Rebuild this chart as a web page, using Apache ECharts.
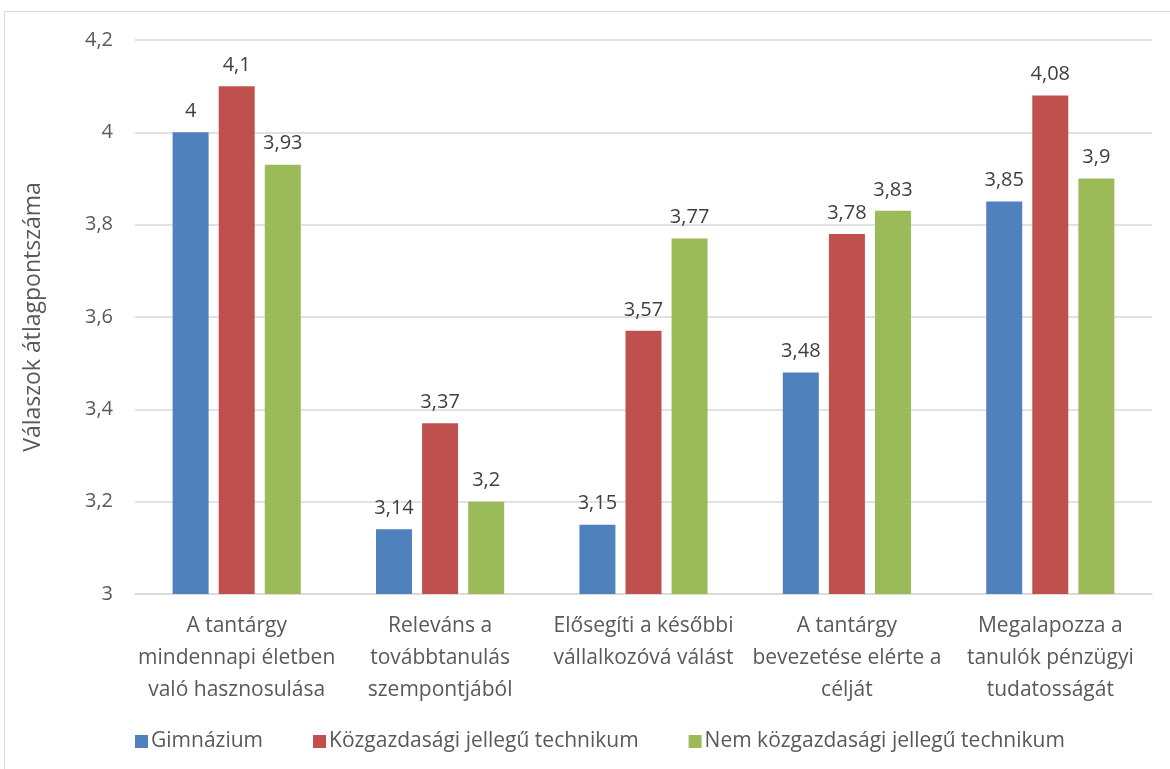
<!DOCTYPE html>
<html>
<head>
<meta charset="utf-8">
<script src="https://cdn.jsdelivr.net/npm/echarts@6/dist/echarts.min.js"></script>
<style>
  html, body { margin: 0; padding: 0; background: #fff; }
  #frame { position: absolute; left: 4px; top: 11px; width: 1180px; height: 800px; border: 1px solid #d9d9d9; box-sizing: border-box; }
  #chart { position: absolute; left: 0; top: 0; width: 1170px; height: 769px; }
</style>
</head>
<body>
<div id="frame"></div>
<div id="chart"></div>
<script>
// Category labels (x axis)
const categories = [
  'A tantárgy\nmindennapi életben\nvaló hasznosulása',
  'Releváns a\ntovábbtanulás\nszempontjából',
  'Elősegíti a későbbi\nvállalkozóvá válást',
  'A tantárgy\nbevezetése elérte a\ncélját',
  'Megalapozza a\ntanulók pénzügyi\ntudatosságát'
];
// Average scores per school type
const gimnazium = [4, 3.14, 3.15, 3.48, 3.85];
const kozgazdasagi = [4.1, 3.37, 3.57, 3.78, 4.08];
const nemKozgazdasagi = [3.93, 3.2, 3.77, 3.83, 3.9];
const seriesNames = ['Gimnázium', 'Közgazdasági jellegű technikum', 'Nem közgazdasági jellegű technikum'];
const colors = ['#4f81bd', '#c0504d', '#9bbb59'];
const yAxisTitle = 'Válaszok átlagpontszáma';

const font = '"Open Sans", Lato, sans-serif';
const comma = v => String(v).replace('.', ',');

const chart = echarts.init(document.getElementById('chart'));
const mk = (name, data, color) => ({
  name, type: 'bar', data,
  barWidth: 36, barGap: '28%',
  itemStyle: { color },
  label: {
    show: true, position: 'top', distance: 11,
    color: '#404040', fontSize: 20, fontFamily: font,
    formatter: p => comma(p.value)
  }
});
chart.setOption({
  animation: false,
  grid: { left: 135, right: 18, top: 40, bottom: 175 },
  legend: {
    left: 130, top: 726,
    itemWidth: 13, itemHeight: 13, itemGap: 50,
    icon: 'rect',
    textStyle: { color: '#595959', fontSize: 21, fontFamily: font, padding: [0, 0, 0, -2] },
    data: seriesNames
  },
  xAxis: {
    type: 'category', data: categories,
    axisLine: { lineStyle: { color: '#d9d9d9', width: 1.5 } },
    axisTick: { show: false },
    axisLabel: { color: '#595959', fontSize: 21, fontFamily: font, lineHeight: 32, margin: 16, interval: 0 }
  },
  yAxis: {
    type: 'value', min: 3, max: 4.2, interval: 0.2,
    name: yAxisTitle, nameLocation: 'middle', nameGap: 90, nameRotate: 90,
    nameTextStyle: { color: '#595959', fontSize: 23, fontFamily: font },
    axisLine: { show: false }, axisTick: { show: false },
    axisLabel: { color: '#595959', fontSize: 20, fontFamily: font, margin: 22, formatter: v => comma(Math.round(v * 10) / 10) },
    splitLine: { lineStyle: { color: '#d9d9d9', width: 1.5 } }
  },
  series: [
    mk(seriesNames[0], gimnazium, colors[0]),
    mk(seriesNames[1], kozgazdasagi, colors[1]),
    mk(seriesNames[2], nemKozgazdasagi, colors[2])
  ]
});
</script>
</body>
</html>
